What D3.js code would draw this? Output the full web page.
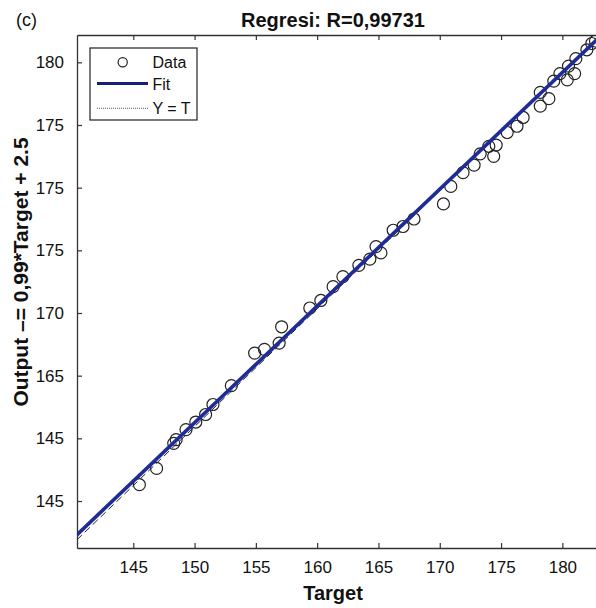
<!DOCTYPE html>
<html>
<head>
<meta charset="utf-8">
<script src="https://cdn.jsdelivr.net/npm/d3@7"></script>
<style>
	body { margin: 0; background: #fff; }
	text { font-family: "Liberation Sans", Arial, sans-serif; }
</style>
</head>
<body>
<div id="canvas"></div>
<script>
var width = 596,
	height = 608;

// plot box (right edge runs past the picture, as in the reference)
var plotLeft = 77, plotTop = 35, plotBottom = 548, plotRight = 600;

// data
var targets = [145.5, 146.9, 148.3, 148.5, 149.3, 150.1, 150.9, 151.5, 153.0, 154.9,
	155.7, 156.9, 157.1, 159.4, 160.3, 161.3, 162.1, 163.4, 164.3, 164.8,
	165.2, 166.2, 167.0, 167.9, 170.3, 170.9, 171.9, 172.8, 173.3, 174.4,
	174.0, 174.6, 175.5, 176.3, 176.8, 178.2, 178.9, 178.2, 179.3, 179.8,
	180.4, 180.5, 181.1, 181.0, 182.0, 182.4, 182.7];
var outputs = [146.3, 147.6, 149.6, 149.9, 150.7, 151.3, 151.9, 152.7, 154.2, 156.8,
	157.1, 157.6, 158.9, 160.4, 161.0, 162.1, 162.9, 163.8, 164.3, 165.3,
	164.8, 166.6, 166.9, 167.5, 168.7, 170.1, 171.2, 171.8, 172.7, 172.5,
	173.3, 173.4, 174.4, 174.9, 175.6, 176.5, 177.1, 177.6, 178.5, 179.1,
	178.6, 179.7, 180.3, 179.1, 181.0, 181.5, 181.7];

var fitT = [140.4, 182.8],
	fitY = [142.3, 181.8];
var identT = [140.4, 182.8],
	identY = [141.9, 181.8];

var xTicks = [145, 150, 155, 160, 165, 170, 175, 180];
var xTickLabels = ['145', '150', '155', '160', '165', '170', '175', '180'];
var yTicks = [145, 150, 155, 160, 165, 170, 175, 180];
var yTickLabels = ['145', '145', '165', '170', '175', '175', '175', '180'];

var x = d3.scaleLinear()
	.domain([140.41, 183.07])
	.range([plotLeft, plotRight]);
var y = d3.scaleLinear()
	.domain([141.25, 182.18])
	.range([plotBottom, plotTop]);

var svg = d3.select('#canvas')
	.append('svg')
	.attr('width', width)
	.attr('height', height);

svg.append('defs').append('clipPath')
	.attr('id', 'plot')
	.append('rect')
	.attr('x', plotLeft).attr('y', plotTop)
	.attr('width', plotRight - plotLeft).attr('height', plotBottom - plotTop);

// axes, MATLAB style: ticks pointing inward
var axisColor = '#333';
function styleAxis(g) {
	g.select('.domain').attr('stroke', axisColor).attr('stroke-width', 1.3);
	g.selectAll('.tick line').attr('stroke', axisColor).attr('stroke-width', 1.2);
	g.selectAll('.tick text')
		.attr('fill', '#111')
		.style('font-size', '17px')
		.style('font-family', '"Liberation Sans", Arial, sans-serif');
}

svg.append('g')
	.attr('transform', 'translate(0,' + plotBottom + ')')
	.call(d3.axisBottom(x).tickValues(xTicks)
		.tickFormat(function(d, i) { return xTickLabels[i]; })
		.tickSizeInner(-5).tickSizeOuter(0).tickPadding(13))
	.call(styleAxis);

svg.append('g')
	.attr('transform', 'translate(0,' + plotTop + ')')
	.call(d3.axisTop(x).tickValues(xTicks).tickFormat('')
		.tickSizeInner(-5).tickSizeOuter(0))
	.call(styleAxis);

svg.append('g')
	.attr('transform', 'translate(' + plotLeft + ',0)')
	.call(d3.axisLeft(y).tickValues(yTicks)
		.tickFormat(function(d, i) { return yTickLabels[i]; })
		.tickSizeInner(-5).tickSizeOuter(0).tickPadding(13))
	.call(styleAxis);

// lines and points
var plot = svg.append('g').attr('clip-path', 'url(#plot)');
var line = d3.line()
	.x(function(d) { return x(d[0]); })
	.y(function(d) { return y(d[1]); });

plot.append('path')
	.attr('d', line(d3.zip(identT, identY)))
	.attr('fill', 'none')
	.attr('stroke', '#222')
	.attr('stroke-width', 1)
	.attr('stroke-dasharray', '7,4');

plot.selectAll('circle')
	.data(d3.zip(targets, outputs))
	.enter().append('circle')
	.attr('cx', function(d) { return x(d[0]); })
	.attr('cy', function(d) { return y(d[1]); })
	.attr('r', 6)
	.attr('fill', 'none')
	.attr('stroke', '#222')
	.attr('stroke-width', 1.2);

plot.append('path')
	.attr('d', line(d3.zip(fitT, fitY)))
	.attr('fill', 'none')
	.attr('stroke', '#1f2b96')
	.attr('stroke-width', 3.6);

// legend
var lg = svg.append('g');
lg.append('rect')
	.attr('x', 90).attr('y', 48)
	.attr('width', 107).attr('height', 72)
	.attr('fill', '#fff')
	.attr('stroke', '#222').attr('stroke-width', 1.2);
lg.append('circle')
	.attr('cx', 122.7).attr('cy', 62.3).attr('r', 4.6)
	.attr('fill', 'none').attr('stroke', '#222').attr('stroke-width', 1.2);
lg.append('line')
	.attr('x1', 97).attr('x2', 148).attr('y1', 83.5).attr('y2', 83.5)
	.attr('stroke', '#14207a').attr('stroke-width', 3.2);
lg.append('line')
	.attr('x1', 97).attr('x2', 148).attr('y1', 108.3).attr('y2', 108.3)
	.attr('stroke', '#333').attr('stroke-width', 0.8)
	.attr('stroke-dasharray', '1,1');
var legendNames = ['Data', 'Fit', 'Y = T'];
lg.selectAll('text.lab')
	.data(legendNames)
	.enter().append('text')
	.attr('class', 'lab')
	.attr('x', 152.5)
	.attr('y', function(d, i) { return [68, 89.5, 113.5][i]; })
	.style('font-size', '16px')
	.attr('fill', '#111')
	.text(function(d) { return d; });

// titles
svg.append('text')
	.attr('x', 16).attr('y', 26)
	.style('font-size', '18px')
	.attr('fill', '#111')
	.text('(c)');

svg.append('text')
	.attr('x', 333).attr('y', 27)
	.attr('text-anchor', 'middle')
	.style('font-size', '20px').style('font-weight', 'bold')
	.attr('fill', '#111')
	.text('Regresi: R=0,99731');

svg.append('text')
	.attr('x', 333).attr('y', 600)
	.attr('text-anchor', 'middle')
	.style('font-size', '20px').style('font-weight', 'bold')
	.attr('fill', '#111')
	.text('Target');

svg.append('text')
	.attr('transform', 'translate(28,272) rotate(-90)')
	.attr('text-anchor', 'middle')
	.style('font-size', '21px').style('font-weight', 'bold')
	.attr('fill', '#111')
	.text('Output \u2013= 0,99*Target + 2.5');
</script>
</body>
</html>
